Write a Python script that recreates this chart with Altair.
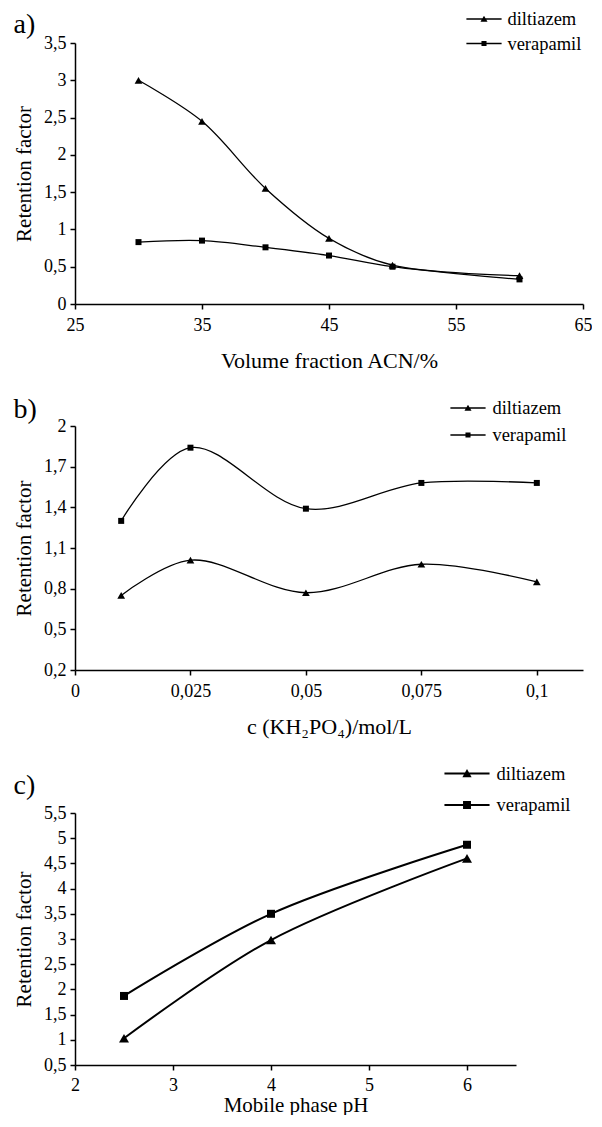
import altair as alt
import pandas as pd

# ---------------- data ----------------
series_names = ["diltiazem", "verapamil"]

# a) volume fraction ACN / %
a_x = [30, 35, 40, 45, 50, 60]
a_dil = [3.00, 2.45, 1.55, 0.88, 0.52, 0.38]
a_ver = [0.83, 0.85, 0.76, 0.65, 0.50, 0.33]

# b) c(KH2PO4) mol/L
b_x = [0.01, 0.025, 0.05, 0.075, 0.1]
b_dil = [0.75, 1.01, 0.77, 0.98, 0.85]
b_ver = [1.30, 1.84, 1.39, 1.58, 1.58]

# c) mobile phase pH
c_x = [2.5, 4, 6]
c_dil = [1.03, 2.98, 4.60]
c_ver = [1.87, 3.50, 4.87]

a_xticks = [25, 35, 45, 55, 65]
a_yticks = [0, 0.5, 1, 1.5, 2, 2.5, 3, 3.5]
b_xticks = [0, 0.025, 0.05, 0.075, 0.1]
b_yticks = [0.2, 0.5, 0.8, 1.1, 1.4, 1.7, 2]
c_xticks = [2, 3, 4, 5, 6]
c_yticks = [0.5, 1, 1.5, 2, 2.5, 3, 3.5, 4, 4.5, 5, 5.5]

FONT = "Liberation Serif"
COMMA = "replace(toString(datum.value), '.', ',')"


def long_df(x, dil, ver):
    rows = []
    for xi, d, v in zip(x, dil, ver):
        rows.append({"x": xi, "y": d, "series": "diltiazem"})
        rows.append({"x": xi, "y": v, "series": "verapamil"})
    return pd.DataFrame(rows)


def panel(x, dil, ver, xdom, xticks, ydom, yticks, xtitle, label,
          width, height, sw, tri_size, sq_size, legend_paths, leg_x, leg_y,
          leg_row, leg_off, x_label_pad, x_title_pad, x_title_size, title_dy):
    df = long_df(x, dil, ver)
    base = alt.Chart(df)
    xenc = alt.X("x:Q", scale=alt.Scale(domain=xdom, nice=False, zero=False),
                 axis=alt.Axis(values=xticks, labelExpr=COMMA, title=xtitle,
                               labelPadding=x_label_pad, titlePadding=x_title_pad,
                               titleFontSize=x_title_size))
    yenc = alt.Y("y:Q", scale=alt.Scale(domain=ydom, nice=False, zero=False),
                 axis=alt.Axis(values=yticks, labelExpr=COMMA, title="Retention factor",
                               labelPadding=4, titlePadding=9, titleFontSize=21))
    line = base.mark_line(color="black", strokeWidth=sw, interpolate="catmull-rom").encode(
        x=xenc, y=yenc, detail="series:N")
    tri = base.transform_filter(alt.datum.series == "diltiazem").mark_point(
        shape="triangle-up", filled=True, color="black", size=tri_size, opacity=1).encode(x=xenc, y=yenc)
    sq = base.transform_filter(alt.datum.series == "verapamil").mark_point(
        shape="square", filled=True, color="black", size=sq_size, opacity=1).encode(x=xenc, y=yenc)
    leg = base.transform_filter("false").mark_point(
        filled=True, color="black", opacity=1).encode(
        x=xenc, y=yenc,
        shape=alt.Shape("series:N",
                        scale=alt.Scale(domain=series_names, range=legend_paths),
                        legend=alt.Legend(
                            title=None, orient="none", legendX=leg_x, legendY=leg_y,
                            symbolSize=484, symbolStrokeWidth=0,
                            symbolFillColor="black",
                            labelFont=FONT, labelFontSize=18.5, labelColor="black",
                            labelOffset=leg_off, rowPadding=leg_row, padding=0,
                            symbolOpacity=1)))
    return alt.layer(line, tri, sq, leg).properties(
        width=width, height=height,
        title=alt.TitleParams(label, anchor="start", frame="bounds", font=FONT, fontSize=28,
                              fontWeight="normal", color="black", offset=0, dy=title_dy))


def paths(half, lw, tri_w, tri_h, sq):
    bar = f"M-{half},-{lw}H{half}V{lw}H-{half}Z"
    tri = f"{bar}M-{tri_w},{tri_h * 0.45}L0,-{tri_h * 0.55}L{tri_w},{tri_h * 0.45}Z"
    sqp = f"{bar}M-{sq},-{sq}H{sq}V{sq}H-{sq}Z"
    return [tri, sqp]


pa = panel(a_x, a_dil, a_ver, [25, 65], a_xticks, [0, 3.5], a_yticks,
           "Volume fraction ACN/%", "a)", 508, 261, 1.3, 60, 36,
           paths(1.6, 0.06, 0.32, 0.55, 0.23), 398, -35, 3.5, 12.4, 7, 16, 22, 31)
pb = panel(b_x, b_dil, b_ver, [0, 0.11], b_xticks, [0.2, 2], b_yticks,
           "c (KH₂PO₄)/mol/L", "b)", 508, 244, 1.3, 60, 36,
           paths(1.6, 0.06, 0.32, 0.55, 0.23), 382, -29, 6, 13.4, 7, 16, 22, 27)
pc = panel(c_x, c_dil, c_ver, [2, 6.5], c_xticks, [0.5, 5.5], c_yticks,
           "Mobile phase pH", "c)", 441, 252, 2.0, 100, 64,
           paths(2.05, 0.09, 0.42, 0.75, 0.36), 381, -50.5, 10.5, 18.5, 6, 0, 21, 37)

chart = alt.vconcat(pa, pb, pc, spacing=25).resolve_scale(
    shape="independent").resolve_legend(shape="independent").configure(
    font=FONT,
    padding={"left": 5, "top": 0, "right": 0, "bottom": 0}
).configure_view(stroke=None).configure_legend(
    labelFont=FONT
).configure_axis(
    domainColor="black", domainWidth=1.5, tickColor="black", tickWidth=1.5, tickSize=5,
    grid=False, labelFont=FONT, labelFontSize=18, labelColor="black",
    titleFont=FONT, titleFontWeight="normal", titleColor="black",
    labelFlush=False
)

chart.save("out.html", embed_options={"renderer": "svg", "actions": False})
